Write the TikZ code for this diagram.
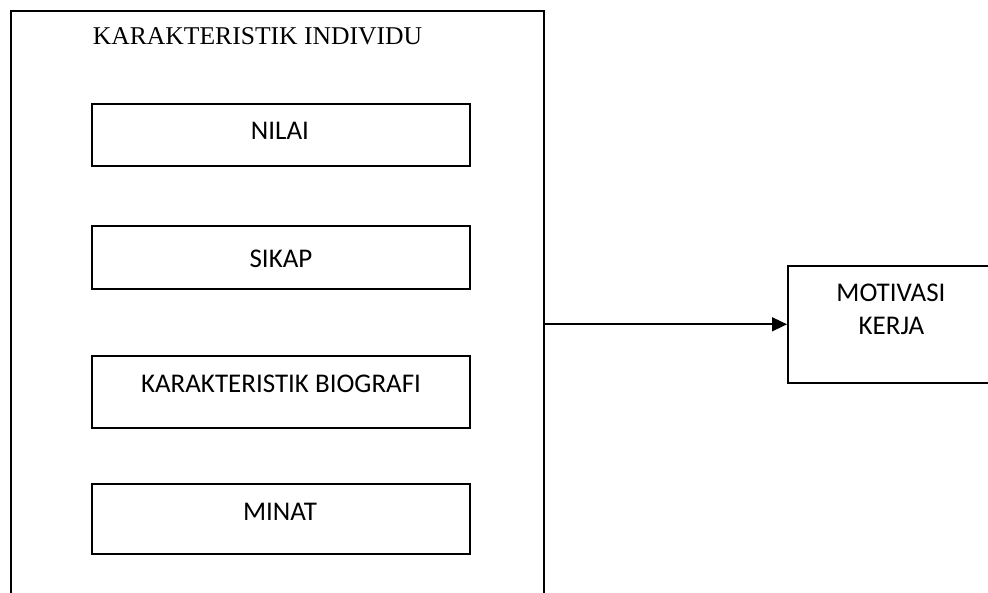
\documentclass[tikz,border=0pt]{standalone}
\usepackage{fontspec}
\setmainfont{Liberation Serif}
\newfontfamily\calib{Carlito}
\usetikzlibrary{arrows.meta,calc}
\begin{document}
\begin{tikzpicture}[x=1pt,y=-1pt,
  frame/.style={draw=black,line width=1.6pt,minimum width=#1,anchor=north west,inner sep=0pt},
  inbox/.style={draw=black,line width=1.6pt,minimum width=378pt,anchor=north west,inner sep=0pt},
  lbl/.style={anchor=base,inner sep=0pt,font=\calib\fontsize{27}{33}\selectfont},
  ttl/.style={anchor=base,inner sep=0pt,font=\fontsize{25.6}{30}\selectfont},
  conn/.style={line width=1.6pt,-{Triangle[length=15pt,width=14pt]}}]
\clip (0,0) rectangle (988,593);
\fill[white] (0,0) rectangle (988,593);
% outer frame (extends past the lower edge)
\node[frame=533pt,minimum height=630pt] (outer) at (10,10) {};
\node[ttl] (title) at (257.5,45) {KARAKTERISTIK INDIVIDU};
% inner boxes
\node[inbox,minimum height=62pt] (nilai) at (91,103) {};
\node[lbl] (tnilai) at (280,140) {NILAI};
\node[inbox,minimum height=63pt] (sikap) at (91,225) {};
\node[lbl] (tsikap) at (281,268) {SIKAP};
\node[inbox,minimum height=72pt] (bio) at (91,355) {};
\node[lbl] (tbio) at (281,393) {KARAKTERISTIK BIOGRAFI};
\node[inbox,minimum height=70pt] (minat) at (91,483) {};
\node[lbl] (tminat) at (280,520) {MINAT};
% right box
\node[frame=208pt,minimum height=117pt] (motiv) at (787,265) {};
\node[lbl] (tmot1) at (891,302) {MOTIVASI};
\node[lbl] (tmot2) at (891.5,335) {KERJA};
% connector
\draw[conn] (outer.east |- motiv.west) -- (motiv.west);
\end{tikzpicture}
\end{document}
